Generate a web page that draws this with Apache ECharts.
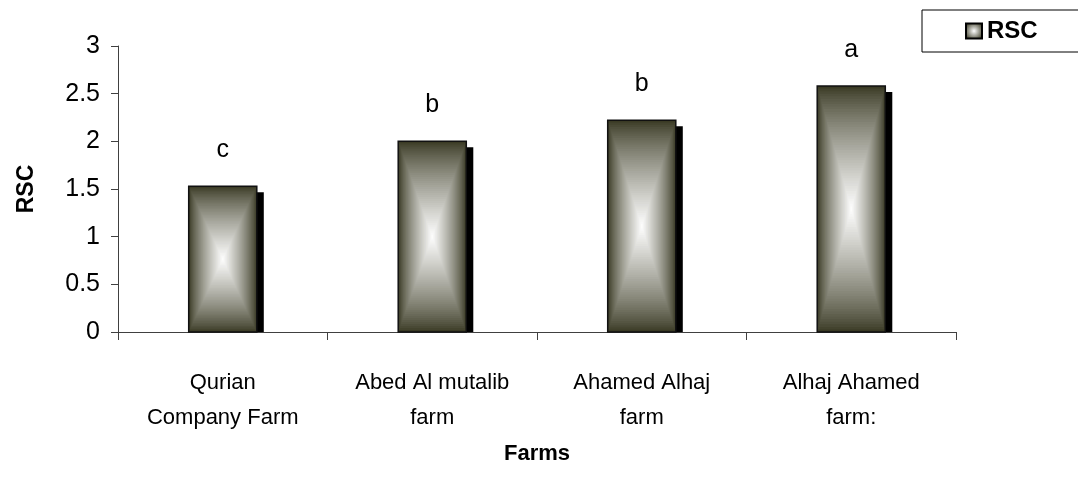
<!DOCTYPE html>
<html>
<head>
<meta charset="utf-8">
<script src="https://cdn.jsdelivr.net/npm/echarts@6/dist/echarts.min.js"></script>
<style>
html,body{margin:0;padding:0;background:#fff;}
#chart{width:1078px;height:493px;}
</style>
</head>
<body>
<div id="chart"></div>
<script>
const categories = ['Qurian\nCompany Farm', 'Abed Al mutalib\nfarm', 'Ahamed Alhaj\nfarm', 'Alhaj Ahamed\nfarm:'];
const rscValues = [1.53, 2.0, 2.22, 2.58];
const letters = ['c', 'b', 'b', 'a'];
const yTicks = { min: 0, max: 3, interval: 0.5 };

const FONT = '"Liberation Sans", Arial, sans-serif';
const EDGE = [58, 58, 36];

function mix(t) {
  const f = Math.pow(t, 0.8);
  const r = Math.round(EDGE[0] + (255 - EDGE[0]) * f);
  const g = Math.round(EDGE[1] + (255 - EDGE[1]) * f);
  const b = Math.round(EDGE[2] + (255 - EDGE[2]) * f);
  return 'rgb(' + r + ',' + g + ',' + b + ')';
}

const chart = echarts.init(document.getElementById('chart'), null, { renderer: 'canvas' });

const option = {
  backgroundColor: '#fff',
  animation: false,
  grid: { left: 118, right: 122, top: 46, bottom: 161 },
  legend: {
    left: 922, top: 10,
    padding: [9, 60, 9, 43],
    backgroundColor: '#fff',
    borderColor: '#000',
    borderWidth: 1,
    icon: 'rect',
    itemWidth: 16, itemHeight: 15,
    itemGap: 5,
    itemStyle: { borderColor: '#000', borderWidth: 2 },
    textStyle: { fontFamily: FONT, fontSize: 24, fontWeight: 'bold', color: '#000' },
    data: ['RSC']
  },
  xAxis: {
    type: 'category',
    data: categories,
    name: 'Farms',
    nameLocation: 'middle',
    nameGap: 111,
    nameTextStyle: { fontFamily: FONT, fontSize: 22, fontWeight: 'bold', color: '#000' },
    axisLine: { lineStyle: { color: '#404040', width: 1 } },
    axisTick: { show: true, length: 8, lineStyle: { color: '#404040' } },
    axisLabel: { fontFamily: FONT, fontSize: 22, color: '#000', lineHeight: 35, margin: 33, interval: 0 }
  },
  yAxis: {
    type: 'value',
    min: yTicks.min, max: yTicks.max, interval: yTicks.interval,
    name: 'RSC',
    nameLocation: 'middle',
    nameGap: 80,
    nameTextStyle: { fontFamily: FONT, fontSize: 23, fontWeight: 'bold', color: '#000' },
    axisLine: { show: true, lineStyle: { color: '#404040', width: 1 } },
    axisTick: { show: true, length: 7, lineStyle: { color: '#404040' } },
    splitLine: { show: false },
    axisLabel: { fontFamily: FONT, fontSize: 25, color: '#000', margin: 18 }
  },
  series: [{
    name: 'RSC',
    type: 'custom',
    itemStyle: {
      color: {
        type: 'radial', x: 0.5, y: 0.5, r: 0.6,
        colorStops: [{ offset: 0, color: '#fff' }, { offset: 1, color: 'rgb(58,58,36)' }]
      }
    },
    data: rscValues.map((v, i) => [i, v]),
    renderItem: function (params, api) {
      const idx = api.value(0);
      const v = api.value(1);
      const top = api.coord([idx, v]);
      const base = api.coord([idx, 0]);
      const bw = api.size([1, 0])[0] * 0.325;
      const x0 = top[0] - bw / 2;
      const y0 = top[1];
      const h = base[1] - top[1];
      const children = [];
      children.push({
        type: 'rect',
        shape: { x: x0 + 7, y: y0 + 6, width: bw, height: h - 6 },
        style: { fill: '#000' }
      });
      const N = 48;
      for (let k = 0; k < N; k++) {
        const t = k / N;
        children.push({
          type: 'rect',
          shape: { x: x0 + t * bw / 2, y: y0 + t * h / 2, width: bw * (1 - t), height: h * (1 - t) },
          style: { fill: mix(t) }
        });
      }
      children.push({
        type: 'rect',
        shape: { x: x0, y: y0, width: bw, height: h },
        style: { fill: 'none', stroke: '#111', lineWidth: 1.5 }
      });
      children.push({
        type: 'text',
        style: {
          text: letters[params.dataIndex],
          x: top[0], y: y0 - 36,
          textAlign: 'center', textVerticalAlign: 'middle',
          font: '25px ' + FONT,
          fill: '#000'
        }
      });
      return { type: 'group', children: children };
    }
  }]
};
chart.setOption(option);
</script>
</body>
</html>
